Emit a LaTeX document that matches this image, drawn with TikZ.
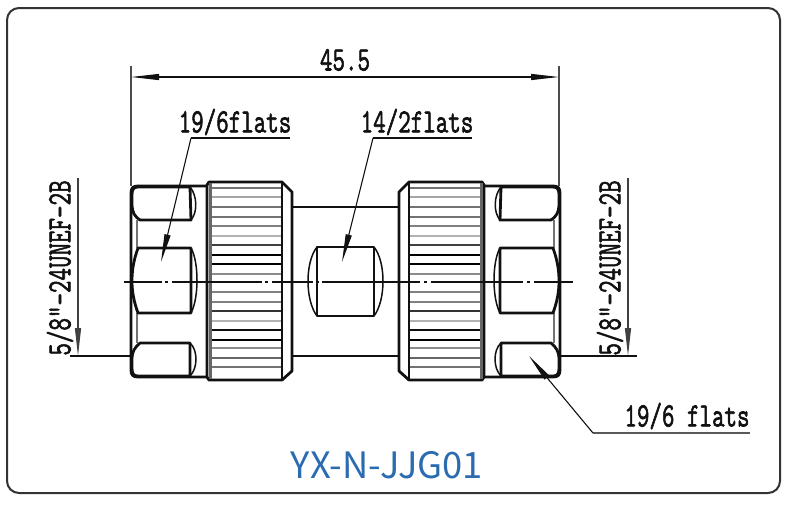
\documentclass[tikz,border=0pt]{standalone}
\usepackage{graphicx}
\usepackage{fontspec}
\newfontfamily\titlefont{Noto Sans CJK SC}
\newfontfamily\drawfont[FakeBold=2]{Latin Modern Mono}
\usetikzlibrary{arrows.meta}
\definecolor{framec}{HTML}{333333}
\definecolor{titleblue}{HTML}{2B6CB0}
\definecolor{inkc}{HTML}{111111}
\tikzset{
  x=1pt,y=-1pt,
  outline/.style={draw=inkc,line width=2.8pt,line join=round},
  thinline/.style={draw=inkc,line width=1.5pt},
  greyline/.style={draw=black!55,line width=2.4pt},
  dimline/.style={draw=inkc,line width=1.1pt},
  tipline/.style={dimline,-{Stealth[length=28pt,width=6pt,inset=0pt]}},
  boththips/.style={dimline,{Stealth[length=28pt,width=6pt,inset=0pt]}-{Stealth[length=28pt,width=6pt,inset=0pt]}},
  lab/.style={inner sep=0pt,text=inkc,font=\drawfont\fontsize{24.3}{24.3}\selectfont},
  vlab/.style={inner sep=0pt,text=inkc,rotate=90,font=\drawfont\fontsize{24.3}{24.3}\selectfont},
}
\newcommand{\tallbox}[1]{\scalebox{1}[1.4]{#1}}
\newcommand{\halfconn}{%
  % hex nut
  \draw[outline] (207,186) -- (138,186) .. controls (133,186) and (131,188) .. (131,193)
     -- (131,370) .. controls (131,375) and (133,377) .. (138,377) -- (207,377);
  \draw[greyline] (137,220) -- (137,248) (137,313) -- (137,343);
  % top flat
  \draw[outline] (190,187) -- (138,187) .. controls (133,187) and (132,190) .. (132,195)
     -- (132,205) .. controls (132,212) and (135,217) .. (140,220) -- (191,220) -- cycle;
  \draw[thinline] (190,187) .. controls (197,195) and (198,212) .. (191,220);
  % middle flat
  \draw[outline] (191,248) -- (138,248) .. controls (133,262) and (132,272) .. (132,281)
     .. controls (132,292) and (134,302) .. (138,313) -- (191,313) -- cycle;
  \draw[thinline] (191,248) .. controls (199,262) and (199,298) .. (191,313);
  % bottom flat
  \draw[outline] (190,343) -- (140,343) .. controls (135,347) and (132,352) .. (132,358)
     -- (132,368) .. controls (132,373) and (133,376) .. (138,376) -- (190,376) -- cycle;
  \draw[thinline] (190,343) .. controls (198,350) and (198,368) .. (190,376);
  % knurled nut
  \foreach \ky/\kw/\kc in {188/2/55,197/1.5/35,207/2/55,217/2/55,226/2/50,236/2/30,245/2/75,255/1.8/100,264/1.4/100,274/1.8/45,292/2/50,302/2/50,311/2/80,321/1.8/30,330/2/95,340/2/100,348/2/45,358/2.6/60,367/2.6/55}
    {\draw[draw=black!\kc,line width=\kw pt] (209,\ky) -- (281,\ky);}
  \draw[outline] (207,185) -- (209,182) -- (282,182) -- (292,192) -- (292,371) -- (282,380) -- (209,380) -- (207,377) -- cycle;
  \draw[draw=black!60,line width=3pt] (210,183) -- (210,379);
  \draw[thinline] (282,182) -- (282,380);
}
\begin{document}
\begin{tikzpicture}
\useasboundingbox (0,0) rectangle (791,507);
\fill[white] (0,0) rectangle (791,507);
\draw[draw=framec,line width=2pt,rounded corners=12pt] (7,8) rectangle (780,493);

% connector halves
\halfconn
\begin{scope}[xshift=691pt,xscale=-1]
\halfconn
\end{scope}

% body between the nuts
\draw[thinline,line width=1.9pt] (292,207) -- (399,207) (292,356) -- (399,356);

% centre flat
\draw[outline] (317,247) rectangle (374,316);
\draw[thinline] (317,247) .. controls (305,262) and (305,300) .. (317,316);
\draw[thinline] (374,247) .. controls (386,262) and (386,300) .. (374,316);

% centre line
\draw[draw=inkc,line width=1.2pt,dash pattern=on 38pt off 3pt on 3pt off 4pt on 90pt off 3pt on 3pt off 4pt on 41pt off 3pt on 3pt off 3pt on 98pt off 4pt on 3pt off 4pt on 92pt off 4pt on 3pt off 4pt on 39pt off 20pt] (124,282) -- (573,282);

% overall dimension
\coordinate (extLtop) at (131,66);
\coordinate (extLbot) at (131,186);
\coordinate (extRtop) at (559,66);
\coordinate (extRbot) at (559,186);
\coordinate (dimL) at (131,77);
\coordinate (dimR) at (559,77);
\draw[dimline,draw=black!70] (extLtop) -- (extLbot);
\draw[dimline,draw=black!70] (extRtop) -- (extRbot);
\draw[boththips] (dimL) -- (dimR);
\node[lab] (dimtext) at (345,60) {\tallbox{45.5}};

% left thread label
\coordinate (ltTop) at (78,178);
\coordinate (ltBot) at (78,356);
\coordinate (ltA) at (70,356);
\coordinate (ltB) at (131,356);
\draw[tipline,draw=black!75] (ltTop) -- (ltBot);
\draw[dimline] (ltA) -- (ltB);
\node[vlab] (ltext) at (60,268) {\tallbox{5/8"-24UNEF-2B}};

% right thread label
\coordinate (rtTop) at (628,178);
\coordinate (rtBot) at (628,356);
\coordinate (rtA) at (560,356);
\coordinate (rtB) at (637,356);
\draw[tipline,draw=black!75] (rtTop) -- (rtBot);
\draw[dimline] (rtA) -- (rtB);
\node[vlab] (rtext) at (610,268) {\tallbox{5/8"-24UNEF-2B}};

% 19/6flats left
\node[lab] (flatsA) at (235,122) {\tallbox{19/6flats}};
\coordinate (aEnd) at (290,138);
\coordinate (aKnee) at (191,138);
\coordinate (aTip) at (161,262);
\draw[dimline] (aEnd) -- (aKnee);
\draw[tipline] (aKnee) -- (aTip);

% 14/2flats
\node[lab] (flatsB) at (417,122) {\tallbox{14/2flats}};
\coordinate (bEnd) at (472,138);
\coordinate (bKnee) at (373,138);
\coordinate (bTip) at (342,262);
\draw[dimline] (bEnd) -- (bKnee);
\draw[tipline] (bKnee) -- (bTip);

% 19/6 flats right
\node[lab] (flatsC) at (687,416) {\tallbox{19/6 flats}};
\coordinate (cEnd) at (750,433);
\coordinate (cKnee) at (593,433);
\coordinate (cTip) at (529,356);
\draw[dimline,draw=black!65] (cEnd) -- (cKnee);
\draw[tipline] (cKnee) -- (cTip);

% title
\node[inner sep=0pt,text=titleblue,font=\titlefont\fontsize{36.3}{36.3}\selectfont] (title) at (387,465) {YX-N-JJG01};
\end{tikzpicture}
\end{document}
